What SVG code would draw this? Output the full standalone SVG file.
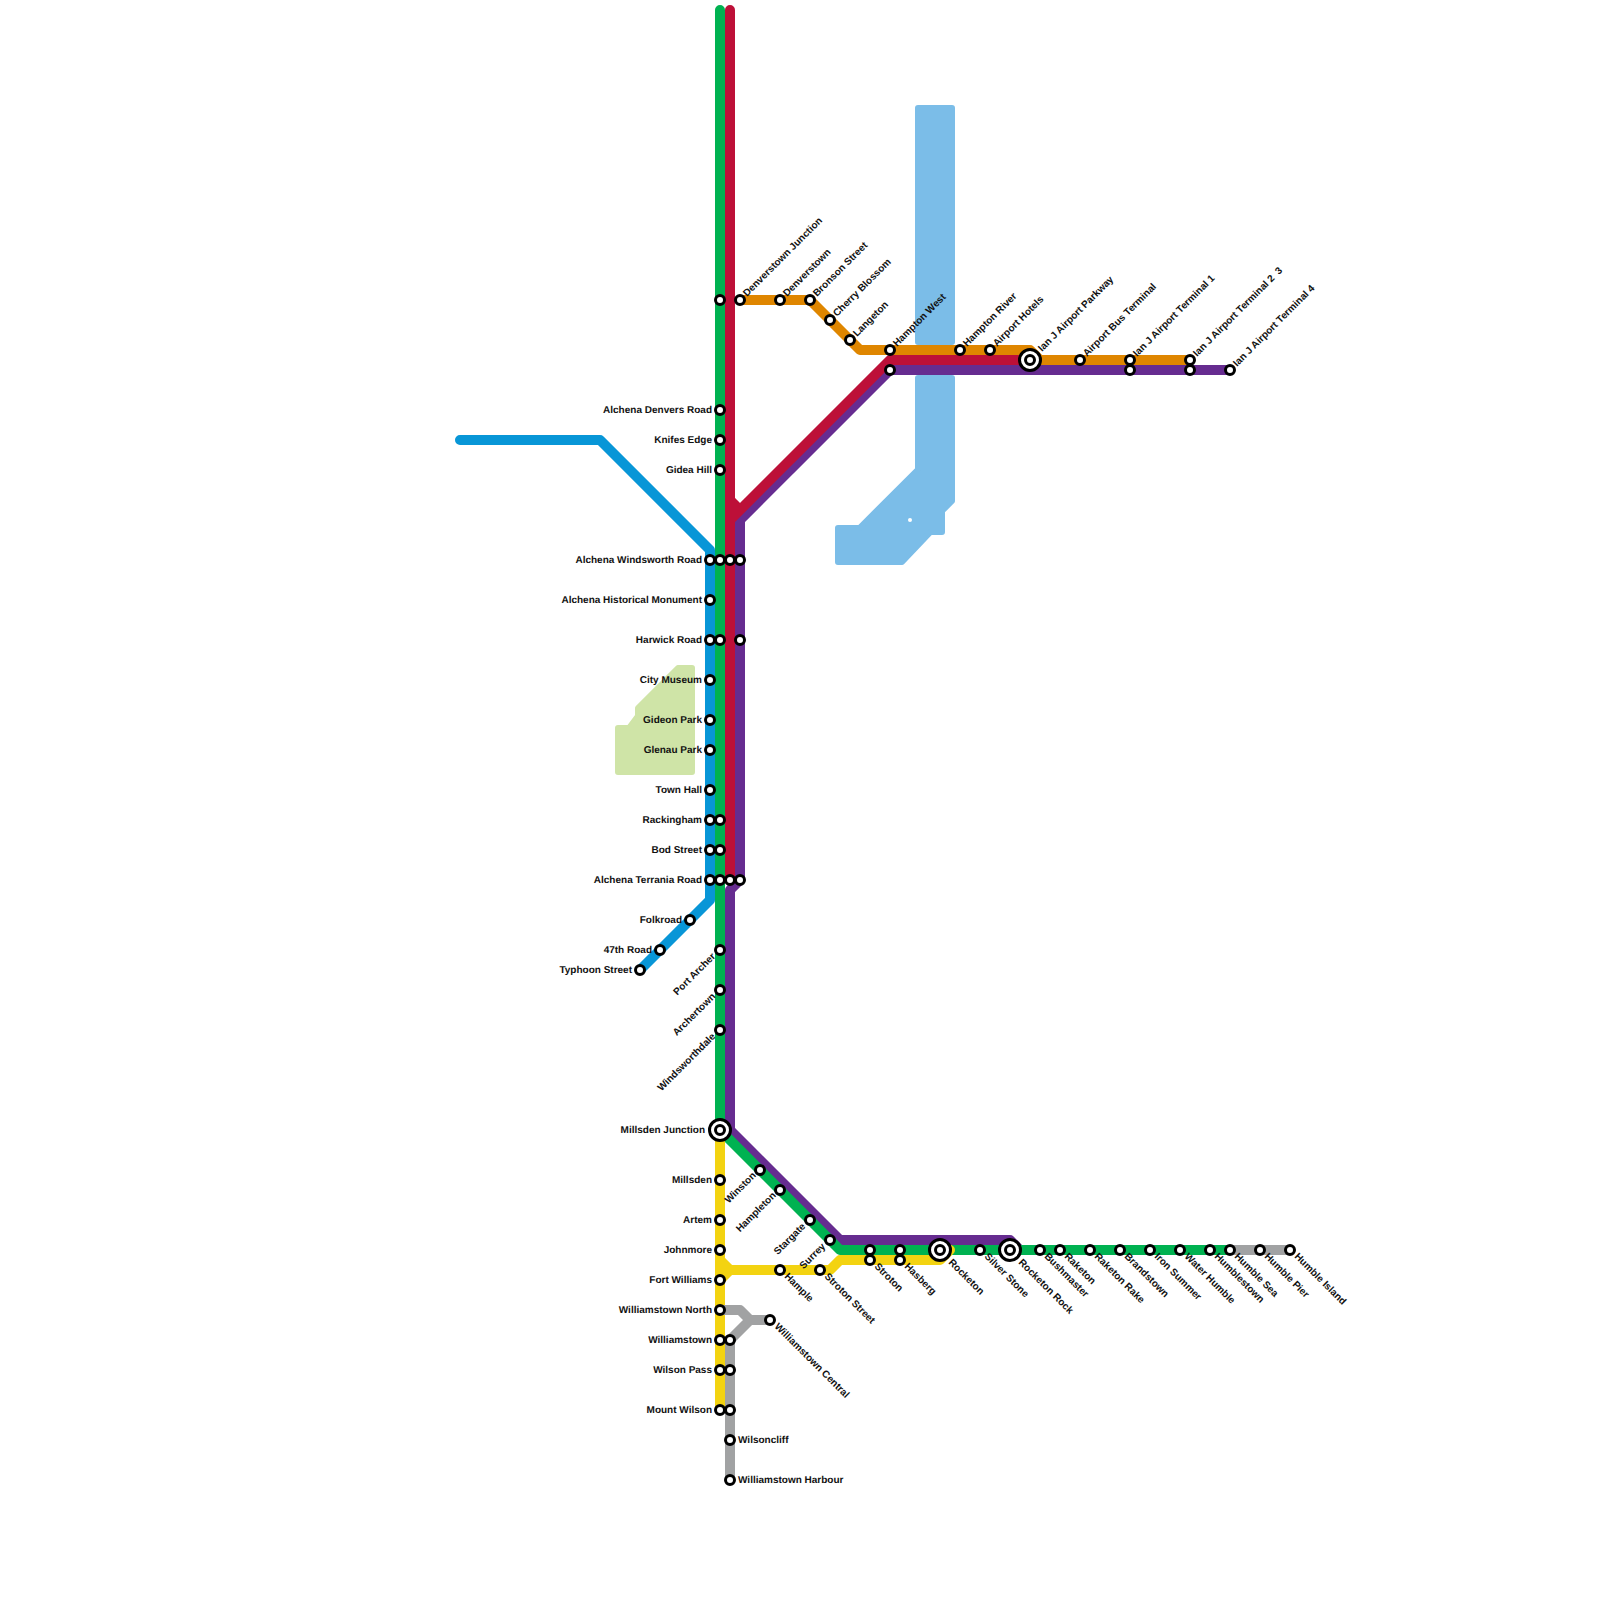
<svg xmlns="http://www.w3.org/2000/svg" width="1600" height="1600" viewBox="0 0 1600 1600">
<style>
text{font-family:"Liberation Sans",Arial,sans-serif;font-size:10px;font-weight:bold;fill:#111;white-space:pre;text-rendering:geometricPrecision}
.e{text-anchor:end}
.l{fill:none;stroke-width:10;stroke-linecap:round;stroke-linejoin:round}
.s{fill:#fff;stroke:#000;stroke-width:3}
.i{fill:#fff;stroke:#000;stroke-width:3}
.w{fill:#7bbde8;stroke:#7bbde8;stroke-width:6;stroke-linejoin:round}
.p{fill:#cfe4a7;stroke:#cfe4a7;stroke-width:6;stroke-linejoin:round}
</style>
<rect width="1600" height="1600" fill="#fff"/>
<g id="background">
<path class="w" d="M918,108H952V342H918Z"/>
<path class="w" fill-rule="evenodd" d="M918,378H952V501L942,511V532H930.500L902,562H838V528H859.500L918,469.500Z"/>
<circle cx="910" cy="520" r="2" fill="#fff"/>
<path class="p" d="M678,668H692V772H618V728H629L638,716V708Z"/>
</g>
<g id="connectors">
<path class="l" stroke="#0896d7" d="M460,440H600L710,550V900L640,970"/>
<path class="l" stroke="#662c90" d="M1230,370H890L740,520V880L730,890V1130L840,1240H1010L1020,1250"/>
<path class="l" stroke="#00b251" d="M720,10V1130L840,1250H1230"/>
<path class="l" stroke="#df8600" d="M740,300H810L860,350H1030L1040,360H1190"/>
<path class="l" stroke="#bd1038" d="M730,10V880M730,500L740,510L730,520M740,510L890,360H1030"/>
<path class="l" stroke="#f3d311" d="M720,1130V1410M720,1260L730,1270L720,1280M730,1270H830L840,1260H940L950,1250"/>
<path class="l" stroke="#a1a2a3" d="M720,1310H740L750,1320H770M750,1320L730,1340V1480M1230,1250H1290"/>
</g>
<g id="n-denverstown-junction"><circle class="s" cx="720" cy="300" r="4.500"/><circle class="s" cx="740" cy="300" r="4.500"/><text transform="translate(747,297) rotate(-45)">Denverstown Junction</text></g>
<g id="n-denverstown"><circle class="s" cx="780" cy="300" r="4.500"/><text transform="translate(787,297) rotate(-45)">Denverstown</text></g>
<g id="n-bronson-street"><circle class="s" cx="810" cy="300" r="4.500"/><text transform="translate(817,297) rotate(-45)">Bronson Street</text></g>
<g id="n-cherry-blossom"><circle class="s" cx="830" cy="320" r="4.500"/><text transform="translate(837,317) rotate(-45)">Cherry Blossom</text></g>
<g id="n-langeton"><circle class="s" cx="850" cy="340" r="4.500"/><text transform="translate(857,337) rotate(-45)">Langeton</text></g>
<g id="n-hampton-west"><circle class="s" cx="890" cy="350" r="4.500"/><circle class="s" cx="890" cy="370" r="4.500"/><text transform="translate(897,347) rotate(-45)">Hampton West</text></g>
<g id="n-hampton-river"><circle class="s" cx="960" cy="350" r="4.500"/><text transform="translate(967,347) rotate(-45)">Hampton River</text></g>
<g id="n-airport-hotels"><circle class="s" cx="990" cy="350" r="4.500"/><text transform="translate(997,347) rotate(-45)">Airport Hotels</text></g>
<g id="n-ian-j-airport-parkway"><circle class="i" cx="1030" cy="360" r="10.500"/><circle class="s" cx="1030" cy="360" r="4.500"/><text transform="translate(1042,352) rotate(-45)">Ian J Airport Parkway</text></g>
<g id="n-airport-bus-terminal"><circle class="s" cx="1080" cy="360" r="4.500"/><text transform="translate(1087,357) rotate(-45)">Airport Bus Terminal</text></g>
<g id="n-terminal-1"><circle class="s" cx="1130" cy="360" r="4.500"/><circle class="s" cx="1130" cy="370" r="4.500"/><text transform="translate(1137,357) rotate(-45)">Ian J Airport Terminal 1</text></g>
<g id="n-terminal-2-3"><circle class="s" cx="1190" cy="360" r="4.500"/><circle class="s" cx="1190" cy="370" r="4.500"/><text transform="translate(1197,357) rotate(-45)">Ian J Airport Terminal 2  3</text></g>
<g id="n-terminal-4"><circle class="s" cx="1230" cy="370" r="4.500"/><text transform="translate(1237,367) rotate(-45)">Ian J Airport Terminal 4</text></g>
<g id="n-alchena-denvers-road"><circle class="s" cx="720" cy="410" r="4.500"/><text class="e" x="712" y="413">Alchena Denvers Road</text></g>
<g id="n-knifes-edge"><circle class="s" cx="720" cy="440" r="4.500"/><text class="e" x="712" y="443">Knifes Edge</text></g>
<g id="n-gidea-hill"><circle class="s" cx="720" cy="470" r="4.500"/><text class="e" x="712" y="473">Gidea Hill</text></g>
<g id="n-alchena-windsworth-road"><circle class="s" cx="710" cy="560" r="4.500"/><circle class="s" cx="720" cy="560" r="4.500"/><circle class="s" cx="730" cy="560" r="4.500"/><circle class="s" cx="740" cy="560" r="4.500"/><text class="e" x="702" y="563">Alchena Windsworth Road</text></g>
<g id="n-alchena-historical-monument"><circle class="s" cx="710" cy="600" r="4.500"/><text class="e" x="702" y="603">Alchena Historical Monument</text></g>
<g id="n-harwick-road"><circle class="s" cx="710" cy="640" r="4.500"/><circle class="s" cx="720" cy="640" r="4.500"/><circle class="s" cx="740" cy="640" r="4.500"/><text class="e" x="702" y="643">Harwick Road</text></g>
<g id="n-city-museum"><circle class="s" cx="710" cy="680" r="4.500"/><text class="e" x="702" y="683">City Museum</text></g>
<g id="n-gideon-park"><circle class="s" cx="710" cy="720" r="4.500"/><text class="e" x="702" y="723">Gideon Park</text></g>
<g id="n-glenau-park"><circle class="s" cx="710" cy="750" r="4.500"/><text class="e" x="702" y="753">Glenau Park</text></g>
<g id="n-town-hall"><circle class="s" cx="710" cy="790" r="4.500"/><text class="e" x="702" y="793">Town Hall</text></g>
<g id="n-rackingham"><circle class="s" cx="710" cy="820" r="4.500"/><circle class="s" cx="720" cy="820" r="4.500"/><text class="e" x="702" y="823">Rackingham</text></g>
<g id="n-bod-street"><circle class="s" cx="710" cy="850" r="4.500"/><circle class="s" cx="720" cy="850" r="4.500"/><text class="e" x="702" y="853">Bod Street</text></g>
<g id="n-alchena-terrania-road"><circle class="s" cx="710" cy="880" r="4.500"/><circle class="s" cx="720" cy="880" r="4.500"/><circle class="s" cx="730" cy="880" r="4.500"/><circle class="s" cx="740" cy="880" r="4.500"/><text class="e" x="702" y="883">Alchena Terrania Road</text></g>
<g id="n-folkroad"><circle class="s" cx="690" cy="920" r="4.500"/><text class="e" x="682" y="923">Folkroad</text></g>
<g id="n-47th-road"><circle class="s" cx="660" cy="950" r="4.500"/><text class="e" x="652" y="953">47th Road</text></g>
<g id="n-typhoon-street"><circle class="s" cx="640" cy="970" r="4.500"/><text class="e" x="632" y="972.500">Typhoon Street</text></g>
<g id="n-port-archer"><circle class="s" cx="720" cy="950" r="4.500"/><text class="e" transform="translate(716,957) rotate(-45)">Port Archer</text></g>
<g id="n-archertown"><circle class="s" cx="720" cy="990" r="4.500"/><text class="e" transform="translate(716,997) rotate(-45)">Archertown</text></g>
<g id="n-windsworthdale"><circle class="s" cx="720" cy="1030" r="4.500"/><text class="e" transform="translate(716,1037) rotate(-45)">Windsworthdale</text></g>
<g id="n-millsden-junction"><circle class="i" cx="720" cy="1130" r="10.500"/><circle class="s" cx="720" cy="1130" r="4.500"/><text class="e" x="705" y="1133">Millsden Junction</text></g>
<g id="n-millsden"><circle class="s" cx="720" cy="1180" r="4.500"/><text class="e" x="712" y="1183">Millsden</text></g>
<g id="n-artem"><circle class="s" cx="720" cy="1220" r="4.500"/><text class="e" x="712" y="1223">Artem</text></g>
<g id="n-johnmore"><circle class="s" cx="720" cy="1250" r="4.500"/><text class="e" x="712" y="1253">Johnmore</text></g>
<g id="n-fort-williams"><circle class="s" cx="720" cy="1280" r="4.500"/><text class="e" x="712" y="1283">Fort Williams</text></g>
<g id="n-williamstown-north"><circle class="s" cx="720" cy="1310" r="4.500"/><text class="e" x="712" y="1313">Williamstown North</text></g>
<g id="n-williamstown"><circle class="s" cx="720" cy="1340" r="4.500"/><circle class="s" cx="730" cy="1340" r="4.500"/><text class="e" x="712" y="1343">Williamstown</text></g>
<g id="n-wilson-pass"><circle class="s" cx="720" cy="1370" r="4.500"/><circle class="s" cx="730" cy="1370" r="4.500"/><text class="e" x="712" y="1373">Wilson Pass</text></g>
<g id="n-mount-wilson"><circle class="s" cx="720" cy="1410" r="4.500"/><circle class="s" cx="730" cy="1410" r="4.500"/><text class="e" x="712" y="1413">Mount Wilson</text></g>
<g id="n-wilsoncliff"><circle class="s" cx="730" cy="1440" r="4.500"/><text x="738" y="1443">Wilsoncliff</text></g>
<g id="n-williamstown-harbour"><circle class="s" cx="730" cy="1480" r="4.500"/><text x="738" y="1483">Williamstown Harbour</text></g>
<g id="n-williamstown-central"><circle class="s" cx="770" cy="1320" r="4.500"/><text transform="translate(774,1327) rotate(45)">Williamstown Central</text></g>
<g id="n-winston"><circle class="s" cx="760" cy="1170" r="4.500"/><text class="e" transform="translate(756.500,1176) rotate(-45)">Winston</text></g>
<g id="n-hampleton"><circle class="s" cx="780" cy="1190" r="4.500"/><text class="e" transform="translate(776.500,1196) rotate(-45)">Hampleton</text></g>
<g id="n-stargate"><circle class="s" cx="810" cy="1220" r="4.500"/><text class="e" transform="translate(806,1227) rotate(-45)">Stargate</text></g>
<g id="n-surrey"><circle class="s" cx="830" cy="1240" r="4.500"/><text class="e" transform="translate(826,1247) rotate(-45)">Surrey</text></g>
<g id="n-hample"><circle class="s" cx="780" cy="1270" r="4.500"/><text transform="translate(784,1277) rotate(45)">Hample</text></g>
<g id="n-stroton-street"><circle class="s" cx="820" cy="1270" r="4.500"/><text transform="translate(824,1277) rotate(45)">Stroton Street</text></g>
<g id="n-stroton"><circle class="s" cx="870" cy="1250" r="4.500"/><circle class="s" cx="870" cy="1260" r="4.500"/><text transform="translate(874,1267) rotate(45)">Stroton</text></g>
<g id="n-hasberg"><circle class="s" cx="900" cy="1250" r="4.500"/><circle class="s" cx="900" cy="1260" r="4.500"/><text transform="translate(904,1267) rotate(45)">Hasberg</text></g>
<g id="n-rocketon"><circle class="i" cx="940" cy="1250" r="10.500"/><circle class="s" cx="940" cy="1250" r="4.500"/><text transform="translate(948,1263) rotate(45)">Rocketon</text></g>
<g id="n-silver-stone"><circle class="s" cx="980" cy="1250" r="4.500"/><text transform="translate(984,1257) rotate(45)">Silver Stone</text></g>
<g id="n-rocketon-rock"><circle class="i" cx="1010" cy="1250" r="10.500"/><circle class="s" cx="1010" cy="1250" r="4.500"/><text transform="translate(1018,1263) rotate(45)">Rocketon Rock</text></g>
<g id="n-bushmaster"><circle class="s" cx="1040" cy="1250" r="4.500"/><text transform="translate(1044,1257) rotate(45)">Bushmaster</text></g>
<g id="n-raketon"><circle class="s" cx="1060" cy="1250" r="4.500"/><text transform="translate(1064,1257) rotate(45)">Raketon</text></g>
<g id="n-raketon-rake"><circle class="s" cx="1090" cy="1250" r="4.500"/><text transform="translate(1094,1257) rotate(45)">Raketon Rake</text></g>
<g id="n-brandstown"><circle class="s" cx="1120" cy="1250" r="4.500"/><text transform="translate(1124,1257) rotate(45)">Brandstown</text></g>
<g id="n-iron-summer"><circle class="s" cx="1150" cy="1250" r="4.500"/><text transform="translate(1154,1257) rotate(45)">Iron Summer</text></g>
<g id="n-water-humble"><circle class="s" cx="1180" cy="1250" r="4.500"/><text transform="translate(1184,1257) rotate(45)">Water Humble</text></g>
<g id="n-humblestown"><circle class="s" cx="1210" cy="1250" r="4.500"/><text transform="translate(1214,1257) rotate(45)">Humblestown</text></g>
<g id="n-humble-sea"><circle class="s" cx="1230" cy="1250" r="4.500"/><text transform="translate(1234,1257) rotate(45)">Humble Sea</text></g>
<g id="n-humble-pier"><circle class="s" cx="1260" cy="1250" r="4.500"/><text transform="translate(1264,1257) rotate(45)">Humble Pier</text></g>
<g id="n-humble-island"><circle class="s" cx="1290" cy="1250" r="4.500"/><text transform="translate(1294,1257) rotate(45)">Humble Island</text></g>
</svg>
